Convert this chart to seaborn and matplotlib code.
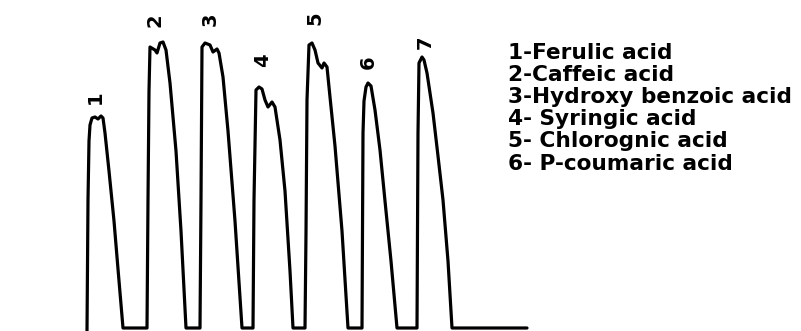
import matplotlib
matplotlib.use("Agg")
import matplotlib.pyplot as plt
import seaborn as sns
import pandas as pd

sns.set_theme(style="white")
plt.rcParams['font.family'] = ['DejaVu Sans']

# Trace: retention position and detector signal
trace_x = [87, 88, 89, 90, 92, 95, 98, 101, 103, 105, 109, 114, 118, 123,
           147, 148, 149, 150, 155, 157, 160, 163, 166, 170, 176, 181, 186,
           200, 201, 202, 205, 210, 213, 217, 219, 223, 228, 235, 242,
           253, 254, 256, 259, 262, 265, 268, 272, 275, 280, 285, 290, 293,
           305, 306, 307, 309, 312, 315, 318, 322, 324, 327, 330, 335, 342, 348,
           362, 363, 364, 366, 368, 371, 375, 380, 385, 391, 397,
           417, 418, 419, 422, 424, 427, 433, 438, 443, 448, 452, 527]
trace_y = [0, 131, 190, 206, 213, 214, 212, 215, 213, 198, 160, 110, 62, 3,
           3, 131, 240, 284, 281, 278, 288, 289, 281, 248, 180, 100, 3,
           3, 131, 284, 288, 286, 279, 282, 278, 254, 200, 110, 3,
           3, 131, 241, 244, 242, 231, 224, 229, 224, 191, 140, 60, 3,
           3, 98, 231, 286, 288, 281, 268, 263, 268, 264, 234, 185, 100, 3,
           3, 198, 230, 244, 248, 245, 221, 181, 130, 70, 3,
           3, 198, 268, 274, 271, 258, 218, 175, 131, 70, 3, 3]

peak_ids = ["1", "2", "3", "4", "5", "6", "7"]
peak_x = [95, 155, 210, 263, 315, 368, 425]
peak_label_y = [234, 311, 312, 271, 313, 269, 289]

legend_items = ["1-Ferulic acid", "2-Caffeic acid", "3-Hydroxy benzoic acid",
                "4- Syringic acid", "5- Chlorognic acid", "6- P-coumaric acid"]

df = pd.DataFrame({"x": trace_x, "y": trace_y})

fig = plt.figure(figsize=(8.01, 3.31), dpi=100)
ax = fig.add_axes([0, 0, 1, 1])
sns.lineplot(data=df, x="x", y="y", ax=ax, color="black", linewidth=2.3,
             sort=False, estimator=None)
ax.set_xlim(0, 801)
ax.set_ylim(0, 331)
ax.axis("off")

for lab, px, py in zip(peak_ids, peak_x, peak_label_y):
    ax.text(px, py, lab, rotation=90, ha="center", va="center",
            fontsize=14, fontweight="bold", color="black")

for i, item in enumerate(legend_items):
    ax.text(508, 331 - (59 + 22.1 * i), item, ha="left", va="baseline",
            fontsize=15.6, fontweight="bold", color="black")

fig.savefig("out.png", dpi=100)
